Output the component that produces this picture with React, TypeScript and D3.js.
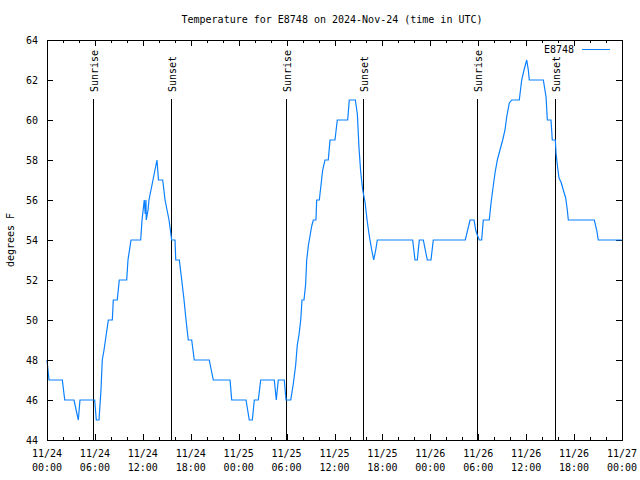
import React from 'react';
import * as d3 from 'd3';

// readings: hours after 2024-11-24 00:00 UTC, degrees F
const hours = [
  0, 0.25, 1.92, 2.22, 3.38, 3.92, 4.13, 5.97, 6.17, 6.51,
  6.76, 6.92, 7.14, 7.39, 7.68, 8.18, 8.3, 8.8, 9.05, 9.98,
  10.14, 10.52, 11.73, 11.9, 12.18, 12.3, 12.39, 12.43, 12.65, 12.77,
  13.02, 13.27, 13.52, 13.77, 13.96, 14.49, 14.78, 15.28, 15.61, 16.03,
  16.12, 16.57, 16.87, 17.16, 17.41, 17.69, 18.12, 18.44, 20.32, 20.82,
  22.92, 23.13, 24.92, 25.33, 25.71, 25.96, 26.46, 26.76, 28.46, 28.71,
  28.96, 29.71, 29.93, 30.52, 30.84, 31.14, 31.34, 31.55, 31.77, 31.93,
  32.18, 32.39, 32.52, 32.72, 32.93, 33.15, 33.35, 33.68, 33.77, 34.1,
  34.52, 34.81, 35.22, 35.44, 36.06, 36.35, 37.65, 37.85, 38.61, 38.86,
  39.07, 39.28, 39.53, 39.82, 40.11, 40.36, 40.66, 40.91, 41.16, 41.36,
  45.79, 46.08, 46.37, 46.62, 47.12, 47.62, 48.08, 48.37, 52.38, 52.97,
  53.47, 53.68, 53.88, 54.13, 54.43, 54.63, 55.38, 55.6, 55.81, 56.1,
  56.39, 56.72, 57.06, 57.35, 57.56, 57.89, 58.19, 59.14, 59.44, 59.73,
  60.07, 60.27, 60.39, 62.15, 62.49, 62.65, 63.11, 63.27, 63.65, 63.74,
  63.9, 64.11, 64.36, 64.65, 64.95, 65.15, 65.28, 68.53, 68.83, 69.03,
  72,
];
const temps = [
  48, 47, 47, 46, 46, 45, 46, 46, 45, 45,
  46.5, 48, 48.5, 49.2, 50, 50, 51, 51, 52, 52,
  53, 54, 54, 55, 56, 55.3, 56, 55, 55.5, 56,
  56.5, 57, 57.5, 58, 57, 57, 56, 55, 54, 54,
  53, 53, 52, 51, 50, 49, 49, 48, 48, 47,
  47, 46, 46, 45, 45, 46, 46, 47, 47, 46,
  47, 47, 46, 46, 46.8, 47.75, 48.75, 49.25, 50, 51,
  51, 51.8, 53, 53.7, 54.2, 54.7, 55, 55, 56, 56,
  57.5, 58, 58, 59, 59, 60, 60, 61, 61, 60.3,
  58.6, 57.4, 56.5, 55.9, 54.9, 54.2, 53.5, 53, 53.5, 54,
  54, 53, 53, 54, 54, 53, 53, 54, 54, 55,
  55, 54.5, 54.25, 54, 54, 55, 55, 55.85, 56.5, 57.35,
  58, 58.5, 59, 59.5, 60.15, 60.85, 61, 61, 62, 62.5,
  63, 62.5, 62, 62, 61.15, 60, 60, 59, 59, 58.35,
  57.75, 57.1, 56.9, 56.5, 56.1, 55.5, 55, 55, 54.5, 54,
  54,
];

// sun events, hours after start
const sunHours = [5.8, 15.56, 29.89, 39.61, 53.88, 63.65];
const sunLabels = ['Sunrise', 'Sunset', 'Sunrise', 'Sunset', 'Sunrise', 'Sunset'];

const yTicks = [44, 46, 48, 50, 52, 54, 56, 58, 60, 62, 64];

const title = 'Temperature for E8748 on 2024-Nov-24 (time in UTC)';
const seriesName = 'E8748';
const yTitle = 'degrees F';

const start = new Date(Date.UTC(2024, 10, 24, 0, 0));
const end = new Date(Date.UTC(2024, 10, 27, 0, 0));
const atHour = (h: number) => new Date(start.getTime() + h * 3600 * 1000);

const W = 640;
const H = 480;
const left = 47;
const right = 622;
const top = 40;
const bottom = 440;
const font = '"DejaVu Sans Mono", "Liberation Mono", monospace';
const blue = '#0a80ff';

export default function App() {
  const x = d3.scaleUtc().domain([start, end]).range([left, right]);
  const y = d3.scaleLinear().domain([44, 64]).range([bottom, top]);

  const data = hours.map((h, i) => ({ t: atHour(h), v: temps[i] }));
  const line = d3.line<{ t: Date; v: number }>()
    .x(d => x(d.t))
    .y(d => y(d.v));

  const major = x.ticks(d3.utcHour.every(6)!);
  const minor = x.ticks(d3.utcHour.every(2)!).filter(t => t.getUTCHours() % 6 !== 0);
  const fmtDay = d3.utcFormat('%m/%d');
  const fmtTime = d3.utcFormat('%H:%M');

  return (
    <svg width={W} height={H} style={{ position: 'absolute', left: 0, top: 0, background: '#fff' }}
      fontFamily={font} fontSize={10}>
      <rect width={W} height={H} fill="#fff" />
      <text x={332} y={23} textAnchor="middle">{title}</text>

      <g shapeRendering="crispEdges" stroke="#000" strokeWidth={1}>
        {yTicks.map(v => (
          <g key={v}>
            <line x1={left} x2={left + 6} y1={Math.round(y(v)) + 0.5} y2={Math.round(y(v)) + 0.5} />
            <line x1={right - 6} x2={right} y1={Math.round(y(v)) + 0.5} y2={Math.round(y(v)) + 0.5} />
          </g>
        ))}
        {major.map(t => {
          const px = Math.round(x(t)) + 0.5;
          return (
            <g key={+t}>
              <line x1={px} x2={px} y1={bottom} y2={bottom - 6} />
              <line x1={px} x2={px} y1={top} y2={top + 6} />
            </g>
          );
        })}
        {minor.map(t => {
          const px = Math.round(x(t)) + 0.5;
          return (
            <g key={+t}>
              <line x1={px} x2={px} y1={bottom} y2={bottom - 3} />
              <line x1={px} x2={px} y1={top} y2={top + 3} />
            </g>
          );
        })}
      </g>

      {yTicks.map(v => (
        <text key={v} x={38} y={y(v) + 3.5} textAnchor="end">{v}</text>
      ))}
      {major.map(t => (
        <g key={+t}>
          <text x={x(t)} y={457} textAnchor="middle">{fmtDay(t)}</text>
          <text x={x(t)} y={471} textAnchor="middle">{fmtTime(t)}</text>
        </g>
      ))}

      <text transform="translate(14,240) rotate(-90)" textAnchor="middle">{yTitle}</text>

      {sunHours.map((h, i) => {
        const px = Math.round(x(atHour(h))) + 0.5;
        return (
          <g key={i}>
            <line x1={px} x2={px} y1={99} y2={bottom} stroke="#000" shapeRendering="crispEdges" />
            <text transform={`translate(${px + 4},92) rotate(-90)`} textAnchor="start">{sunLabels[i]}</text>
          </g>
        );
      })}

      <path d={line(data) ?? ''} fill="none" stroke={blue} strokeWidth={1.2} />

      <text x={574} y={53} textAnchor="end">{seriesName}</text>
      <line x1={582} x2={610} y1={49.5} y2={49.5} stroke={blue} shapeRendering="crispEdges" />

      <rect x={left + 0.5} y={top + 0.5} width={right - left} height={bottom - top}
        fill="none" stroke="#000" shapeRendering="crispEdges" />
    </svg>
  );
}
